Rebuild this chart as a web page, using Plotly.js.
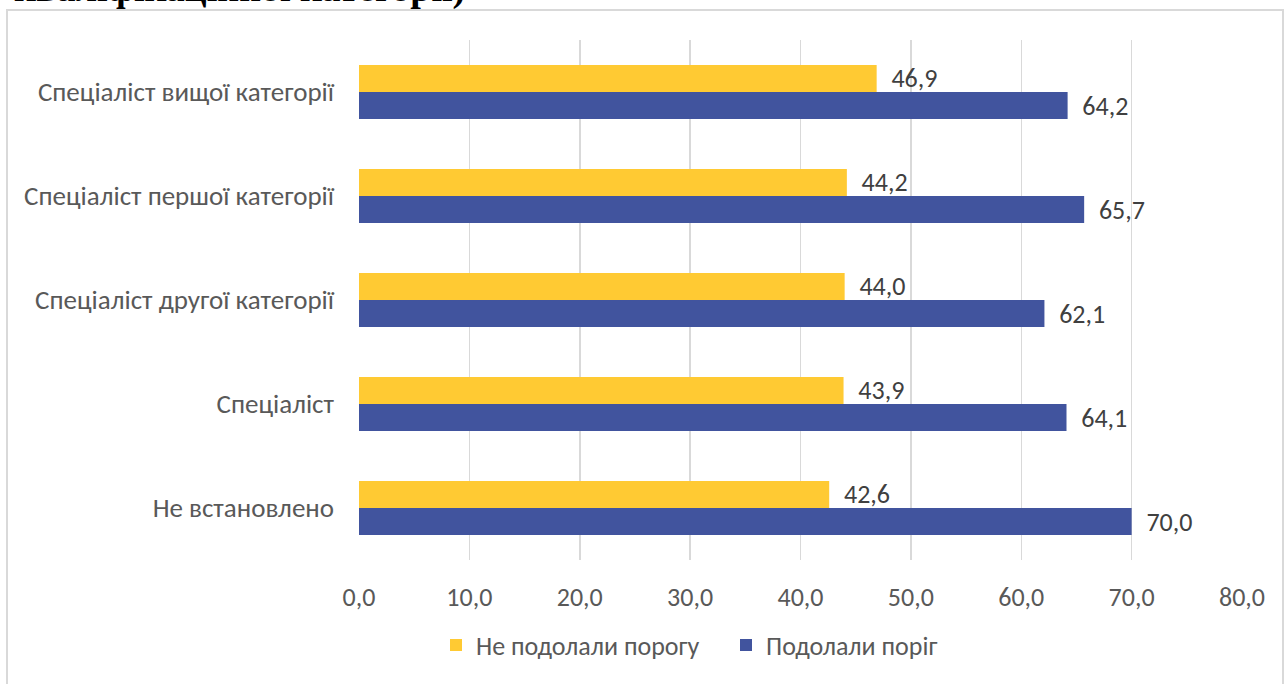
<!DOCTYPE html>
<html>
<head>
<meta charset="utf-8">
<script src="https://cdn.plot.ly/plotly-3.0.1.min.js"></script>
<style>html,body{margin:0;padding:0;background:#fff;}#chart{width:1285px;height:684px;}</style>
</head>
<body>
<div id="chart"></div>
<script>
const categories = ["Спеціаліст вищої категорії", "Спеціаліст першої категорії", "Спеціаліст другої категорії", "Спеціаліст", "Не встановлено"];
const notPassed = [46.9, 44.2, 44.0, 43.9, 42.6];
const passed = [64.2, 65.7, 62.1, 64.1, 70.0];
const seriesNames = ["Не подолали порогу", "Подолали поріг"];
const xTicks = [0, 10, 20, 30, 40, 50, 60, 70, 80];
const titleText = "кваліфікаційної категорії)";

const FONT = "Carlito, 'Liberation Sans Narrow', 'Open Sans', sans-serif";
const L = 359, R = 1285 - 1242, T = 40, B = 684 - 560;
const pw = 1285 - L - R, ph = 684 - T - B;
const px = x => (x - L) / pw;
const py = y => (684 - B - y) / ph;

const traces = [
  {type: 'bar', orientation: 'h', name: seriesNames[0], y: categories, x: notPassed,
   marker: {color: '#FFCA33'}, texttemplate: '  %{x:.1f}', textposition: 'outside', constraintext: 'none',
   textfont: {family: FONT, size: 26, color: '#404040'}, cliponaxis: false},
  {type: 'bar', orientation: 'h', name: seriesNames[1], y: categories, x: passed,
   marker: {color: '#41549E'}, texttemplate: '  %{x:.1f}', textposition: 'outside', constraintext: 'none',
   textfont: {family: FONT, size: 26, color: '#404040'}, cliponaxis: false}
];

const layout = {
  width: 1285, height: 684,
  margin: {l: L, r: R, t: T, b: B, pad: 0},
  paper_bgcolor: '#fff', plot_bgcolor: '#fff',
  separators: ', ',
  barmode: 'group', bargap: 0.48, bargroupgap: 0,
  font: {family: FONT, color: '#595959', size: 26},
  xaxis: {range: [0, 80], tickvals: xTicks, tickformat: '.1f', showgrid: true,
    gridcolor: '#d9d9d9', gridwidth: 1.5, zeroline: false, showline: false,
    ticks: '', ticklabelstandoff: 19, tickfont: {family: FONT, size: 26, color: '#595959'}, fixedrange: true},
  yaxis: {autorange: 'reversed', showgrid: false, zeroline: false, showline: false,
    ticks: '', ticklabelstandoff: 24, tickfont: {family: FONT, size: 27, color: '#595959'}},
  showlegend: true,
  legend: {orientation: 'h', x: px(436), xanchor: 'left', y: py(645), yanchor: 'middle',
    font: {family: FONT, size: 26, color: '#595959'}, traceorder: 'normal', itemwidth: 30,
    entrywidth: 245, entrywidthmode: 'pixels'},
  shapes: [
    {type: 'rect', xref: 'paper', yref: 'paper', x0: px(7), x1: px(1283), y0: py(720), y1: py(10),
     line: {color: '#d9d9d9', width: 2}, fillcolor: 'rgba(0,0,0,0)', layer: 'below'}
  ],
  annotations: [
    {text: '<b>' + titleText + '</b>', xref: 'paper', yref: 'paper', x: px(12), xanchor: 'left',
     y: py(-11), yanchor: 'middle', showarrow: false,
     font: {family: "'Liberation Serif', 'DejaVu Serif', serif", size: 38, color: '#000'}}
  ]
};

Plotly.newPlot('chart', traces, layout, {displayModeBar: false, staticPlot: true});
</script>
</body>
</html>
